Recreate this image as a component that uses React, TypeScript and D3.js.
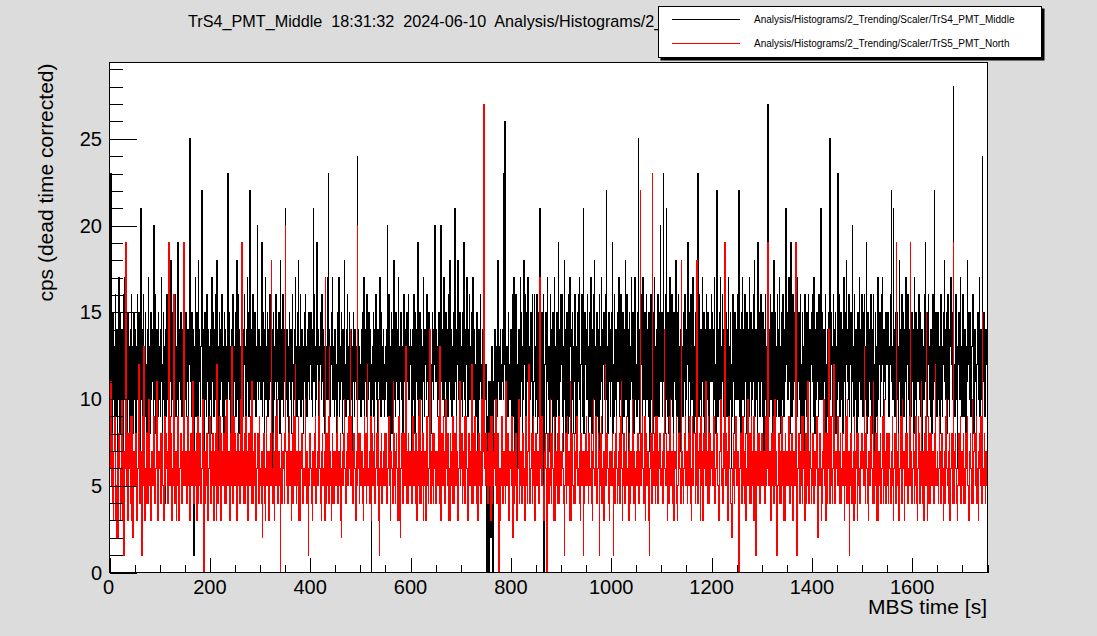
import React from "react";
import * as d3 from "d3";

// TrS4_PMT_Middle, 1 s per bin, 0..1750 s (one row = 50 s)
const middleCps = [
  12, 9, 23, 14, 8, 11, 15, 10, 13, 7, 12, 16, 9, 11, 14, 6, 13, 10, 17, 12, 8, 15, 11, 9, 14, 12, 7, 13, 16, 10, 17, 11, 9, 14, 12, 8, 15, 10, 13, 11, 7, 14, 12, 16, 9, 11, 13, 8, 15, 10,
  11, 14, 8, 13, 10, 16, 12, 9, 15, 11, 7, 13, 21, 10, 14, 12, 8, 16, 11, 13, 9, 15, 12, 10, 6, 14, 11, 17, 9, 13, 12, 8, 15, 10, 14, 11, 13, 9, 20, 12, 10, 16, 8, 12, 14, 11, 9, 15, 13, 10,
  13, 9, 14, 17, 11, 8, 12, 15, 10, 13, 4, 11, 14, 9, 16, 12, 10, 13, 7, 15, 12, 11, 18, 9, 13, 10, 15, 8, 12, 14, 11, 16, 9, 13, 10, 12, 19, 8, 14, 11, 13, 10, 15, 12, 9, 14, 11, 16, 10, 13,
  12, 10, 15, 9, 13, 11, 14, 8, 12, 16, 25, 11, 13, 9, 15, 10, 12, 14, 1, 11, 13, 17, 9, 12, 15, 10, 8, 18, 11, 14, 12, 9, 13, 16, 22, 10, 14, 11, 7, 12, 15, 10, 13, 9, 16, 12, 11, 14, 8, 13,
  10, 14, 12, 8, 17, 13, 11, 15, 9, 12, 14, 10, 16, 12, 18, 9, 13, 11, 7, 15, 12, 10, 14, 11, 16, 9, 13, 12, 8, 15, 11, 14, 10, 13, 9, 12, 23, 11, 15, 10, 13, 8, 5, 12, 14, 11, 16, 9, 13, 12,
  11, 15, 9, 13, 18, 10, 12, 16, 8, 14, 12, 7, 13, 10, 15, 11, 14, 9, 12, 16, 13, 10, 8, 14, 12, 17, 11, 15, 9, 13, 22, 12, 10, 14, 8, 11, 16, 13, 10, 12, 15, 9, 13, 11, 20, 12, 10, 14, 11, 13,
  13, 10, 12, 19, 9, 15, 11, 14, 8, 12, 17, 10, 13, 11, 15, 9, 12, 14, 10, 16, 11, 13, 9, 14, 12, 6, 15, 10, 13, 11, 12, 16, 9, 14, 11, 13, 10, 15, 12, 8, 18, 11, 14, 10, 12, 16, 9, 13, 11, 14,
  21, 12, 10, 14, 9, 13, 6, 11, 15, 12, 10, 14, 8, 13, 16, 11, 9, 12, 14, 10, 17, 13, 11, 9, 15, 12, 18, 10, 13, 11, 16, 9, 12, 14, 10, 13, 8, 11, 15, 12, 16, 10, 13, 9, 14, 12, 11, 15, 10, 13,
  12, 15, 10, 13, 9, 14, 21, 11, 16, 12, 8, 13, 10, 19, 12, 14, 9, 11, 7, 13, 15, 12, 10, 16, 11, 14, 9, 13, 12, 8, 14, 11, 13, 10, 17, 12, 23, 10, 14, 11, 9, 13, 12, 15, 17, 10, 13, 11, 9, 14,
  13, 10, 12, 8, 15, 11, 14, 17, 9, 13, 10, 12, 15, 11, 8, 14, 13, 10, 18, 12, 11, 9, 14, 12, 16, 10, 13, 11, 15, 9, 12, 14, 10, 13, 6, 11, 15, 12, 9, 14, 11, 13, 10, 12, 24, 11, 14, 10, 13, 12,
  12, 9, 14, 11, 15, 10, 13, 17, 8, 12, 14, 11, 9, 16, 12, 10, 13, 15, 11, 14, 9, 12, 0, 10, 13, 12, 15, 9, 14, 11, 13, 16, 10, 12, 8, 14, 11, 13, 10, 17, 12, 9, 15, 11, 13, 10, 14, 12, 9, 11,
  10, 13, 11, 14, 20, 9, 12, 16, 11, 7, 13, 10, 15, 8, 12, 14, 11, 18, 10, 13, 9, 15, 11, 12, 14, 10, 17, 12, 9, 13, 11, 15, 10, 13, 8, 12, 16, 11, 14, 10, 13, 9, 15, 12, 11, 16, 10, 13, 12, 14,
  13, 11, 6, 14, 12, 10, 16, 13, 8, 15, 11, 12, 14, 10, 19, 13, 9, 12, 15, 11, 10, 14, 12, 8, 13, 17, 11, 9, 14, 12, 13, 10, 16, 11, 12, 9, 15, 13, 10, 14, 12, 8, 11, 15, 13, 10, 14, 12, 20, 11,
  11, 14, 12, 9, 13, 10, 15, 8, 12, 16, 20, 13, 11, 14, 10, 12, 17, 9, 13, 11, 15, 10, 12, 14, 9, 16, 11, 13, 18, 10, 12, 14, 9, 13, 11, 15, 10, 12, 21, 11, 13, 9, 14, 12, 18, 10, 13, 11, 15, 12,
  10, 13, 12, 9, 15, 11, 19, 10, 14, 8, 13, 12, 17, 11, 9, 14, 12, 16, 10, 13, 11, 15, 9, 12, 17, 13, 10, 14, 11, 12, 9, 13, 15, 11, 6, 12, 14, 10, 13, 16, 11, 12, 9, 14, 10, 13, 15, 11, 12, 10,
  12, 10, 0, 8, 9, 11, 0, 5, 11, 9, 2, 10, 13, 0, 0, 11, 10, 12, 14, 10, 12, 13, 9, 11, 18, 12, 11, 10, 13, 14, 10, 12, 12, 11, 14, 10, 23, 12, 26, 11, 11, 13, 13, 10, 9, 15, 12, 11, 10, 13,
  14, 8, 11, 16, 9, 13, 17, 11, 7, 15, 16, 10, 8, 12, 6, 11, 14, 13, 9, 17, 11, 15, 13, 8, 10, 14, 18, 12, 16, 9, 9, 13, 15, 11, 17, 7, 13, 8, 10, 15, 15, 11, 12, 16, 8, 10, 11, 16, 13, 9,
  10, 13, 16, 8, 14, 9, 15, 12, 21, 11, 7, 13, 15, 10, 9, 16, 0, 9, 12, 14, 15, 8, 11, 17, 13, 10, 13, 7, 16, 10, 10, 14, 8, 15, 11, 9, 17, 13, 7, 11, 9, 15, 13, 10, 19, 8, 14, 11, 16, 13,
  12, 16, 9, 13, 7, 10, 18, 12, 14, 8, 10, 15, 12, 8, 16, 12, 9, 17, 13, 14, 6, 10, 15, 13, 8, 11, 14, 16, 8, 10, 13, 9, 11, 15, 16, 11, 17, 10, 7, 12, 13, 16, 9, 13, 21, 8, 11, 15, 12, 14,
  14, 10, 16, 13, 7, 11, 15, 9, 12, 17, 13, 8, 11, 14, 9, 16, 18, 10, 13, 8, 12, 15, 11, 9, 14, 7, 16, 12, 10, 13, 17, 11, 8, 14, 12, 15, 10, 13, 9, 16, 22, 10, 13, 8, 12, 15, 11, 14, 9, 12,
  11, 15, 19, 8, 12, 9, 16, 13, 10, 14, 7, 12, 15, 11, 13, 17, 9, 14, 10, 16, 12, 8, 13, 15, 11, 9, 14, 12, 18, 10, 13, 16, 9, 11, 14, 7, 15, 12, 10, 13, 17, 11, 9, 15, 12, 8, 14, 17, 10, 12,
  12, 9, 13, 15, 25, 10, 14, 8, 11, 16, 12, 14, 9, 17, 13, 10, 11, 15, 8, 13, 16, 10, 12, 14, 9, 15, 11, 7, 13, 16, 10, 14, 12, 8, 15, 11, 17, 9, 13, 10, 14, 5, 12, 16, 11, 9, 13, 15, 20, 11,
  12, 15, 9, 14, 23, 11, 13, 8, 16, 10, 21, 12, 9, 15, 13, 8, 11, 17, 14, 10, 12, 16, 9, 13, 7, 15, 11, 14, 10, 18, 12, 9, 15, 11, 16, 8, 13, 7, 14, 12, 17, 10, 13, 9, 15, 12, 11, 16, 8, 13,
  10, 14, 12, 19, 8, 13, 11, 15, 9, 16, 12, 10, 14, 17, 11, 8, 13, 15, 9, 12, 14, 11, 23, 13, 9, 16, 12, 10, 14, 8, 11, 17, 13, 9, 15, 12, 7, 14, 11, 16, 10, 13, 15, 8, 12, 6, 14, 11, 13, 16,
  11, 15, 13, 9, 14, 17, 10, 12, 8, 16, 22, 11, 9, 14, 12, 15, 10, 17, 13, 8, 12, 16, 11, 14, 9, 13, 18, 10, 12, 15, 9, 14, 11, 17, 8, 13, 10, 15, 12, 6, 9, 14, 16, 11, 13, 8, 15, 12, 10, 14,
  12, 16, 10, 13, 22, 9, 14, 11, 8, 15, 13, 17, 10, 12, 14, 9, 16, 11, 13, 8, 15, 12, 10, 14, 9, 17, 13, 11, 15, 8, 14, 10, 13, 16, 11, 18, 9, 12, 14, 10, 13, 8, 19, 12, 11, 15, 9, 13, 16, 11,
  13, 9, 15, 12, 6, 14, 11, 16, 10, 13, 8, 15, 27, 11, 14, 9, 13, 16, 10, 12, 15, 11, 8, 14, 18, 12, 10, 15, 9, 13, 12, 16, 10, 14, 9, 17, 11, 13, 8, 15, 13, 10, 16, 12, 9, 14, 11, 15, 21, 12,
  12, 15, 10, 13, 17, 11, 14, 8, 19, 13, 9, 12, 16, 10, 15, 11, 13, 7, 14, 12, 17, 9, 13, 11, 15, 10, 14, 16, 8, 12, 11, 15, 9, 13, 7, 12, 16, 10, 14, 9, 15, 12, 10, 16, 11, 13, 14, 8, 12, 15,
  13, 16, 11, 9, 17, 13, 8, 12, 14, 10, 15, 11, 13, 9, 16, 12, 10, 14, 21, 11, 10, 15, 12, 8, 14, 11, 13, 16, 6, 12, 11, 14, 9, 15, 13, 17, 25, 10, 12, 15, 13, 9, 11, 16, 14, 10, 12, 15, 8, 13,
  10, 14, 23, 11, 12, 16, 9, 13, 15, 10, 14, 8, 12, 17, 11, 13, 9, 15, 18, 12, 11, 14, 10, 16, 9, 13, 12, 15, 8, 14, 20, 11, 13, 9, 16, 12, 10, 14, 12, 8, 13, 15, 9, 12, 17, 11, 14, 10, 13, 16,
  13, 9, 15, 12, 16, 10, 13, 11, 19, 8, 12, 15, 9, 11, 14, 13, 10, 16, 12, 8, 14, 11, 16, 10, 12, 6, 15, 13, 11, 9, 13, 17, 10, 14, 12, 15, 9, 11, 13, 16, 17, 12, 9, 14, 11, 13, 10, 15, 12, 14,
  12, 15, 14, 9, 10, 13, 12, 16, 22, 11, 13, 10, 21, 14, 12, 9, 15, 11, 13, 10, 15, 12, 8, 13, 18, 11, 14, 9, 12, 16, 10, 13, 15, 9, 14, 12, 11, 17, 8, 13, 12, 16, 10, 14, 6, 12, 13, 9, 14, 15,
  11, 14, 13, 8, 17, 12, 10, 15, 9, 13, 14, 11, 13, 16, 12, 10, 15, 9, 11, 14, 5, 12, 13, 10, 14, 16, 19, 11, 12, 9, 11, 15, 16, 12, 13, 10, 9, 14, 11, 8, 13, 16, 10, 12, 22, 11, 12, 15, 11, 9,
  12, 15, 10, 13, 13, 8, 11, 16, 14, 10, 9, 13, 12, 15, 18, 11, 10, 14, 15, 8, 11, 16, 12, 10, 9, 14, 13, 17, 14, 12, 10, 15, 28, 11, 12, 9, 11, 16, 13, 10, 6, 13, 12, 15, 14, 10, 17, 12, 13, 9,
  11, 16, 12, 9, 10, 14, 14, 8, 13, 11, 18, 12, 12, 15, 11, 10, 15, 9, 10, 13, 13, 16, 12, 8, 9, 14, 14, 11, 7, 12, 12, 15, 10, 13, 17, 9, 11, 14, 12, 10, 24, 12, 11, 15, 13, 9, 10, 14, 12, 13,
];

// TrS5_PMT_North, same binning
const northCps = [
  8, 6, 11, 5, 6, 8, 4, 3, 7, 9, 9, 5, 3, 2, 5, 7, 2, 4, 8, 6, 6, 3, 4, 8, 10, 5, 3, 7, 1, 4, 7, 6, 19, 5, 5, 8, 3, 4, 8, 6, 6, 9, 4, 3, 9, 7, 2, 5, 7, 6,
  5, 7, 8, 4, 3, 6, 6, 9, 12, 5, 4, 7, 7, 3, 1, 6, 9, 5, 13, 8, 3, 6, 6, 4, 8, 7, 4, 9, 10, 5, 6, 3, 3, 7, 7, 5, 5, 8, 9, 4, 4, 6, 6, 8, 11, 5, 3, 7, 7, 6,
  6, 8, 4, 5, 8, 6, 5, 3, 3, 7, 9, 5, 6, 8, 7, 4, 4, 6, 19, 7, 5, 9, 8, 4, 3, 6, 6, 5, 16, 8, 4, 6, 7, 3, 5, 7, 9, 6, 3, 5, 6, 8, 8, 4, 4, 7, 7, 5, 19, 6,
  5, 6, 7, 4, 4, 8, 9, 5, 6, 7, 3, 5, 8, 6, 5, 9, 11, 4, 4, 7, 7, 5, 6, 8, 3, 6, 9, 4, 5, 7, 8, 5, 4, 6, 6, 9, 10, 5, 0, 6, 7, 4, 5, 8, 8, 6, 3, 5, 6, 7,
  9, 6, 4, 7, 6, 5, 8, 4, 3, 6, 7, 8, 5, 3, 12, 6, 4, 7, 6, 5, 9, 4, 3, 8, 7, 6, 5, 7, 8, 4, 6, 9, 4, 5, 10, 7, 5, 6, 7, 4, 3, 8, 8, 5, 13, 6, 4, 7, 9, 5,
  5, 8, 7, 4, 3, 6, 8, 5, 6, 7, 4, 9, 10, 5, 19, 6, 5, 4, 7, 8, 4, 6, 9, 5, 6, 7, 3, 5, 8, 6, 5, 9, 7, 4, 11, 6, 4, 7, 6, 5, 8, 3, 3, 6, 7, 8, 5, 4, 9, 6,
  6, 5, 4, 7, 2, 6, 5, 8, 7, 4, 3, 6, 9, 5, 6, 7, 4, 3, 7, 6, 5, 8, 18, 5, 6, 4, 8, 7, 3, 5, 7, 9, 5, 6, 10, 4, 4, 7, 6, 5, 0, 6, 8, 4, 5, 7, 7, 6, 4, 8,
  20, 7, 5, 6, 7, 4, 4, 8, 9, 5, 6, 7, 3, 6, 8, 4, 5, 9, 7, 5, 12, 6, 4, 7, 6, 5, 9, 3, 5, 7, 3, 6, 7, 8, 8, 4, 4, 6, 6, 5, 10, 7, 5, 4, 7, 6, 1, 5, 6, 8,
  8, 6, 5, 4, 3, 7, 7, 5, 6, 8, 9, 4, 4, 6, 7, 5, 5, 9, 11, 6, 6, 4, 3, 7, 8, 5, 5, 6, 7, 3, 17, 6, 4, 8, 6, 5, 9, 4, 13, 7, 7, 5, 3, 6, 8, 4, 6, 7, 4, 5,
  7, 6, 5, 8, 9, 4, 4, 7, 6, 5, 8, 3, 2, 6, 7, 5, 5, 8, 10, 6, 6, 4, 4, 7, 8, 5, 5, 9, 7, 6, 14, 5, 9, 7, 6, 4, 4, 8, 8, 6, 5, 3, 7, 5, 20, 6, 6, 8, 4, 7,
  8, 5, 5, 7, 7, 4, 3, 6, 9, 5, 6, 8, 4, 7, 12, 5, 5, 6, 7, 4, 6, 9, 3, 5, 8, 6, 5, 7, 9, 4, 4, 6, 7, 8, 6, 5, 10, 3, 1, 6, 5, 7, 8, 4, 4, 6, 7, 5, 6, 8,
  5, 7, 8, 4, 4, 6, 6, 9, 9, 5, 3, 7, 7, 6, 5, 4, 11, 8, 6, 5, 4, 7, 8, 6, 5, 3, 7, 9, 3, 5, 2, 6, 6, 8, 4, 7, 8, 5, 5, 6, 13, 4, 6, 7, 4, 8, 7, 5, 5, 6,
  7, 5, 4, 8, 9, 6, 5, 7, 6, 4, 8, 5, 3, 6, 7, 9, 5, 4, 10, 6, 4, 7, 6, 5, 8, 3, 5, 7, 7, 6, 3, 8, 9, 5, 5, 4, 6, 7, 14, 5, 4, 6, 7, 8, 5, 4, 8, 6, 6, 7,
  4, 6, 7, 5, 5, 8, 9, 4, 13, 6, 3, 7, 8, 5, 5, 9, 7, 4, 4, 6, 10, 7, 6, 5, 8, 3, 5, 6, 3, 8, 7, 5, 6, 4, 9, 7, 4, 6, 8, 5, 5, 9, 7, 4, 3, 6, 6, 8, 11, 5,
  6, 7, 8, 4, 5, 6, 7, 9, 4, 5, 9, 7, 6, 3, 3, 6, 8, 5, 5, 7, 7, 4, 12, 6, 4, 8, 6, 5, 9, 7, 5, 4, 7, 6, 3, 8, 8, 5, 6, 7, 4, 6, 10, 5, 7, 8, 27, 6, 8, 5,
  5, 8, 7, 4, 4, 6, 8, 5, 6, 9, 3, 7, 9, 4, 5, 6, 7, 8, 6, 5, 10, 4, 4, 7, 8, 6, 0, 5, 6, 3, 5, 8, 9, 6, 4, 7, 7, 5, 6, 4, 11, 6, 5, 8, 8, 5, 3, 7, 7, 6,
  6, 5, 9, 7, 2, 6, 7, 4, 5, 8, 8, 6, 3, 5, 6, 9, 10, 4, 5, 7, 7, 6, 4, 8, 8, 5, 6, 3, 3, 7, 9, 6, 5, 4, 7, 8, 12, 5, 4, 6, 6, 7, 8, 4, 5, 9, 7, 6, 3, 5,
  8, 6, 5, 7, 7, 4, 4, 8, 17, 6, 6, 5, 9, 7, 5, 4, 3, 6, 7, 8, 6, 5, 0, 7, 8, 4, 5, 6, 10, 5, 4, 8, 7, 6, 6, 3, 9, 5, 3, 7, 5, 6, 8, 4, 6, 9, 4, 5, 7, 6,
  5, 7, 8, 6, 6, 4, 1, 5, 7, 8, 4, 6, 9, 5, 5, 7, 6, 3, 11, 6, 3, 8, 7, 5, 5, 4, 8, 6, 4, 7, 6, 9, 9, 5, 5, 6, 7, 4, 3, 8, 8, 5, 6, 7, 1, 4, 7, 6, 5, 8,
  9, 5, 6, 7, 4, 8, 7, 5, 5, 6, 8, 4, 3, 7, 10, 6, 6, 5, 5, 9, 7, 4, 4, 6, 8, 7, 1, 5, 6, 8, 9, 4, 5, 6, 7, 3, 4, 7, 12, 5, 6, 8, 8, 6, 5, 4, 3, 7, 7, 5,
  6, 7, 8, 5, 1, 6, 7, 4, 5, 8, 9, 6, 4, 5, 6, 7, 8, 4, 5, 9, 11, 6, 3, 5, 7, 8, 6, 4, 4, 7, 9, 5, 5, 6, 7, 3, 8, 6, 4, 7, 6, 5, 10, 8, 5, 4, 7, 6, 3, 5,
  7, 6, 5, 8, 8, 4, 4, 7, 22, 5, 6, 8, 9, 6, 5, 4, 7, 9, 3, 6, 8, 5, 6, 7, 4, 3, 1, 6, 7, 8, 5, 4, 23, 7, 6, 5, 8, 6, 4, 9, 7, 5, 9, 4, 5, 7, 6, 8, 8, 5,
  5, 6, 7, 4, 4, 8, 14, 6, 6, 5, 8, 7, 3, 6, 7, 4, 5, 9, 10, 5, 6, 7, 4, 6, 8, 3, 5, 7, 7, 6, 9, 4, 3, 5, 6, 8, 8, 6, 5, 4, 18, 7, 7, 5, 4, 6, 6, 8, 9, 5,
  6, 7, 4, 5, 8, 6, 5, 9, 7, 4, 3, 6, 9, 5, 6, 8, 8, 4, 5, 7, 18, 6, 4, 5, 7, 8, 6, 3, 9, 6, 5, 7, 3, 4, 8, 6, 6, 5, 11, 7, 5, 4, 7, 9, 4, 6, 8, 5, 6, 7,
  7, 6, 5, 8, 9, 4, 4, 6, 6, 7, 8, 5, 5, 3, 3, 6, 7, 8, 10, 5, 6, 4, 4, 7, 8, 6, 19, 5, 5, 8, 7, 4, 3, 6, 9, 7, 6, 5, 4, 3, 2, 6, 5, 8, 7, 4, 6, 7, 9, 5,
  5, 6, 7, 4, 0, 5, 6, 8, 8, 5, 4, 7, 9, 6, 5, 4, 7, 8, 3, 6, 6, 5, 10, 7, 5, 4, 8, 6, 4, 9, 7, 5, 6, 3, 9, 6, 3, 7, 1, 5, 7, 8, 5, 6, 8, 4, 4, 7, 6, 5,
  8, 6, 5, 7, 7, 4, 4, 6, 9, 5, 6, 8, 19, 6, 5, 7, 7, 4, 3, 6, 8, 5, 6, 9, 4, 7, 10, 5, 7, 6, 1, 5, 5, 8, 8, 4, 6, 7, 4, 6, 9, 5, 5, 3, 7, 6, 3, 8, 6, 5,
  7, 6, 5, 8, 9, 4, 4, 7, 6, 5, 8, 3, 3, 6, 7, 5, 5, 8, 19, 6, 1, 4, 6, 7, 8, 5, 4, 6, 7, 9, 5, 4, 9, 6, 6, 7, 3, 5, 8, 4, 5, 7, 11, 6, 4, 5, 7, 8, 6, 4,
  5, 7, 8, 4, 4, 6, 7, 5, 6, 8, 9, 4, 2, 6, 5, 7, 8, 5, 6, 3, 4, 7, 7, 6, 10, 5, 5, 8, 3, 6, 8, 4, 6, 7, 14, 5, 4, 6, 9, 7, 5, 4, 6, 8, 12, 6, 4, 5, 7, 6,
  6, 5, 9, 7, 5, 4, 7, 8, 4, 6, 8, 5, 6, 7, 3, 5, 7, 9, 5, 4, 10, 6, 4, 7, 1, 5, 6, 8, 8, 4, 5, 6, 7, 3, 9, 5, 4, 7, 6, 8, 3, 5, 8, 6, 5, 4, 7, 6, 6, 8,
  8, 6, 5, 7, 13, 5, 4, 8, 9, 6, 6, 4, 3, 7, 7, 5, 5, 9, 8, 6, 6, 4, 11, 7, 4, 5, 7, 8, 5, 3, 9, 6, 3, 7, 6, 5, 8, 4, 5, 6, 7, 9, 4, 5, 10, 7, 6, 4, 5, 8,
  7, 5, 4, 8, 8, 6, 6, 4, 5, 7, 9, 5, 3, 6, 7, 8, 5, 4, 19, 7, 6, 5, 8, 3, 4, 6, 7, 9, 5, 4, 10, 6, 6, 7, 3, 5, 8, 6, 5, 8, 7, 4, 4, 6, 9, 5, 19, 7, 6, 4,
  5, 6, 8, 7, 4, 5, 7, 9, 6, 4, 3, 6, 9, 8, 5, 4, 7, 6, 11, 5, 4, 7, 6, 3, 8, 6, 5, 9, 15, 5, 3, 7, 9, 4, 6, 8, 4, 5, 8, 6, 5, 7, 7, 4, 6, 8, 12, 5, 5, 6,
  7, 5, 4, 6, 9, 7, 5, 4, 6, 8, 8, 5, 3, 6, 7, 4, 5, 9, 10, 6, 6, 5, 4, 7, 8, 3, 5, 6, 7, 8, 6, 4, 19, 5, 4, 7, 8, 6, 6, 4, 3, 5, 7, 8, 5, 6, 9, 4, 6, 7,
  5, 7, 8, 4, 6, 5, 4, 8, 7, 6, 9, 5, 5, 3, 3, 7, 8, 6, 6, 4, 10, 5, 4, 7, 7, 8, 5, 6, 9, 4, 6, 5, 3, 7, 8, 6, 5, 9, 7, 4, 15, 6, 6, 5, 8, 7, 4, 6, 7, 5,
];

const xMajorTicks = [0, 200, 400, 600, 800, 1000, 1200, 1400, 1600];
const yMajorTicks = [0, 5, 10, 15, 20, 25];
const titleText =
  "TrS4_PMT_Middle  18:31:32  2024-06-10  Analysis/Histograms/2_Trending/Scaler/TrS4_PMT_Middle";
const legendNames = [
  "Analysis/Histograms/2_Trending/Scaler/TrS4_PMT_Middle",
  "Analysis/Histograms/2_Trending/Scaler/TrS5_PMT_North",
];
const legendColors = ["#000000", "#ff0000"];

const W = 1097;
const H = 636;
const frame = { left: 109.5, right: 987.5, top: 62.5, bottom: 572.5 };
const XMAX = 1750;
const YMAX = 29.4;
const font = "'Liberation Sans', Arial, Helvetica, sans-serif";

const xScale = d3.scaleLinear().domain([0, XMAX]).range([frame.left, frame.right]);
const yScale = d3.scaleLinear().domain([0, YMAX]).range([frame.bottom, frame.top]);

function histPath(vals: number[]) {
  const w = XMAX / vals.length;
  const pts: [number, number][] = vals.map((v, i) => [i * w, v]);
  pts.push([XMAX, vals[vals.length - 1]]);
  return (
    d3
      .line<[number, number]>()
      .x((d) => xScale(d[0]))
      .y((d) => yScale(d[1]))
      .curve(d3.curveStepAfter)(pts) || ""
  );
}

const App: React.FC = () => {
  const xMinor = d3.range(0, XMAX + 1, 50);
  const yMinor = d3.range(0, 30, 1);

  return (
    <svg
      width={W}
      height={H}
      style={{ position: "absolute", left: 0, top: 0, fontFamily: font }}
    >
      <rect x={0} y={0} width={W} height={H} fill="#dcdcdc" />

      <defs>
        <clipPath id="titleClip">
          <rect x={0} y={0} width={658} height={60} />
        </clipPath>
        <clipPath id="frameClip">
          <rect
            x={frame.left}
            y={frame.top}
            width={frame.right - frame.left}
            height={frame.bottom - frame.top}
          />
        </clipPath>
      </defs>

      {/* title, the legend box sits over its end */}
      <text
        x={188}
        y={27}
        fontSize={16.2}
        fill="#000"
        clipPath="url(#titleClip)"
        style={{ whiteSpace: "pre" }}
      >
        {titleText}
      </text>

      <rect
        x={frame.left}
        y={frame.top}
        width={frame.right - frame.left}
        height={frame.bottom - frame.top}
        fill="#fff"
      />

      <g clipPath="url(#frameClip)" shapeRendering="crispEdges">
        <path d={histPath(middleCps)} fill="none" stroke="#000" strokeWidth={1} />
        <path d={histPath(northCps)} fill="none" stroke="#ff0000" strokeWidth={1} />
      </g>

      <rect
        x={frame.left}
        y={frame.top}
        width={frame.right - frame.left}
        height={frame.bottom - frame.top}
        fill="none"
        stroke="#000"
        strokeWidth={1}
        shapeRendering="crispEdges"
      />

      {/* ticks */}
      <g stroke="#000" strokeWidth={1} shapeRendering="crispEdges">
        {xMinor.map((v) => {
          const major = v % 200 === 0;
          const px = Math.round(xScale(v)) + 0.5;
          return (
            <line
              key={"xt" + v}
              x1={px}
              x2={px}
              y1={frame.bottom}
              y2={frame.bottom - (major ? 15 : 8)}
            />
          );
        })}
        {yMinor.map((v) => {
          const major = v % 5 === 0;
          const py = Math.round(yScale(v)) + 0.5;
          return (
            <line
              key={"yt" + v}
              x1={frame.left}
              x2={frame.left + (major ? 27 : 13)}
              y1={py}
              y2={py}
            />
          );
        })}
      </g>

      {xMajorTicks.map((v) => (
        <text
          key={"xl" + v}
          x={xScale(v) - (v === 0 ? 1 : 0)}
          y={594}
          fontSize={20}
          textAnchor="middle"
        >
          {v}
        </text>
      ))}
      {yMajorTicks.map((v) => (
        <text key={"yl" + v} x={102} y={yScale(v) + 7.2} fontSize={20} textAnchor="end">
          {v}
        </text>
      ))}

      <text x={987} y={614} fontSize={21} textAnchor="end">
        MBS time [s]
      </text>
      <text
        transform={`translate(53,${frame.top + 1}) rotate(-90)`}
        fontSize={21}
        textAnchor="end"
      >
        cps (dead time corrected)
      </text>

      {/* legend */}
      <rect x={660.5} y={8.5} width={384} height={52} fill="#000" />
      <rect
        x={658.5}
        y={6.5}
        width={383}
        height={51}
        fill="#fff"
        stroke="#000"
        strokeWidth={1}
        shapeRendering="crispEdges"
      />
      {legendNames.map((name, i) => (
        <g key={name}>
          <line
            x1={672}
            x2={740}
            y1={19.5 + i * 24}
            y2={19.5 + i * 24}
            stroke={legendColors[i]}
            strokeWidth={1}
            shapeRendering="crispEdges"
          />
          <text x={754} y={22.7 + i * 24} fontSize={10}>
            {name}
          </text>
        </g>
      ))}
    </svg>
  );
};

export default App;
